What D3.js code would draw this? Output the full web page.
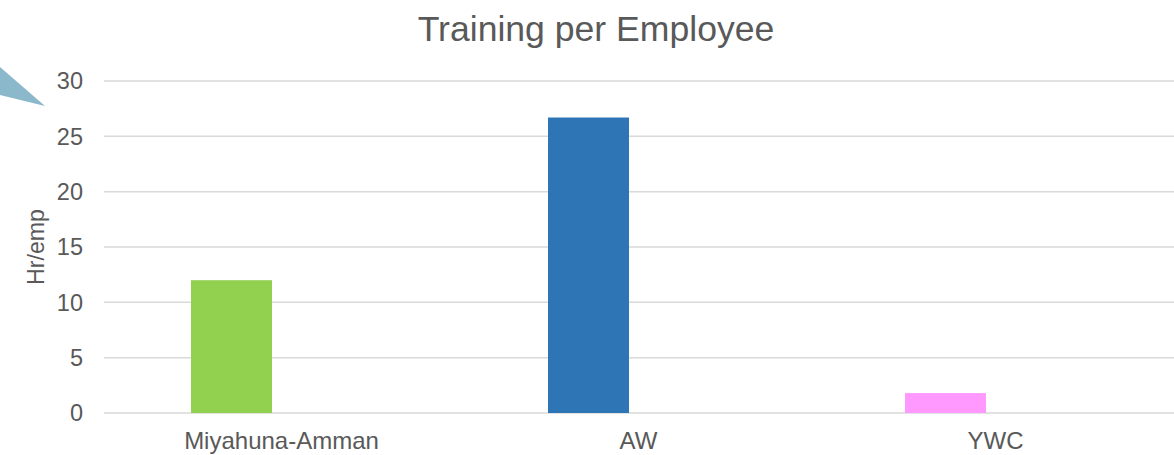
<!DOCTYPE html>
<html>
<head>
<meta charset="utf-8">
<script src="https://cdn.jsdelivr.net/npm/d3@7"></script>
<style>
  body { margin: 0; background: #fff; }
  svg { display: block; font-family: "Liberation Sans", Arial, sans-serif; }
</style>
</head>
<body>
<script>
// données
const categories = ["Miyahuna-Amman", "AW", "YWC"];
const values = [12, 26.7, 1.8];
const colors = ["#92d050", "#2e75b6", "#ff99ff"];
const yTicks = [0, 5, 10, 15, 20, 25, 30];

const width = 1174, height = 455;
const margin = { top: 81, right: 0, bottom: 42, left: 103 };

const svg = d3.select("body").append("svg")
    .attr("width", width)
    .attr("height", height);

// petite forme de bulle en haut à gauche
svg.append("polygon")
    .attr("points", "0,67 45,106 0,95")
    .attr("fill", "#8bb8ca");

const x = d3.scaleBand()
    .domain(categories)
    .range([margin.left, width - margin.right]);

// deux emplacements par catégorie, le second est vide (comme dans Excel)
const xs = d3.scaleBand()
    .domain(["val", "vide"])
    .range([0, x.bandwidth()])
    .paddingInner(0.19)
    .paddingOuter(0.88);

const y = d3.scaleLinear()
    .domain([0, 30])
    .range([height - margin.bottom, margin.top]);

// grille
svg.append("g")
    .selectAll("line")
    .data(yTicks)
    .join("line")
    .attr("x1", margin.left + 1)
    .attr("x2", width)
    .attr("y1", d => y(d))
    .attr("y2", d => y(d))
    .attr("stroke", "#d9d9d9")
    .attr("stroke-width", 1.5);

// libellés de l'axe Y
svg.append("g")
    .selectAll("text")
    .data(yTicks)
    .join("text")
    .attr("x", 83)
    .attr("y", d => y(d))
    .attr("dy", "0.35em")
    .attr("text-anchor", "end")
    .attr("font-size", 23.5)
    .attr("fill", "#595959")
    .text(d => d);

// barres
svg.append("g")
    .selectAll("rect")
    .data(categories)
    .join("rect")
    .attr("x", (d, i) => x(d) + xs("val"))
    .attr("width", xs.bandwidth())
    .attr("y", (d, i) => y(values[i]))
    .attr("height", (d, i) => y(0) - y(values[i]))
    .attr("fill", (d, i) => colors[i]);

// libellés de l'axe X
svg.append("g")
    .selectAll("text")
    .data(categories)
    .join("text")
    .attr("x", d => x(d) + x.bandwidth() / 2)
    .attr("y", 449)
    .attr("text-anchor", "middle")
    .attr("font-size", 24)
    .attr("fill", "#595959")
    .text(d => d);

// titre
svg.append("text")
    .attr("x", 596)
    .attr("y", 41)
    .attr("text-anchor", "middle")
    .attr("font-size", 35.6)
    .attr("fill", "#595959")
    .text("Training per Employee");

// titre de l'axe Y
svg.append("text")
    .attr("transform", "translate(44,247) rotate(-90)")
    .attr("text-anchor", "middle")
    .attr("font-size", 23.2)
    .attr("fill", "#595959")
    .text("Hr/emp");
</script>
</body>
</html>
